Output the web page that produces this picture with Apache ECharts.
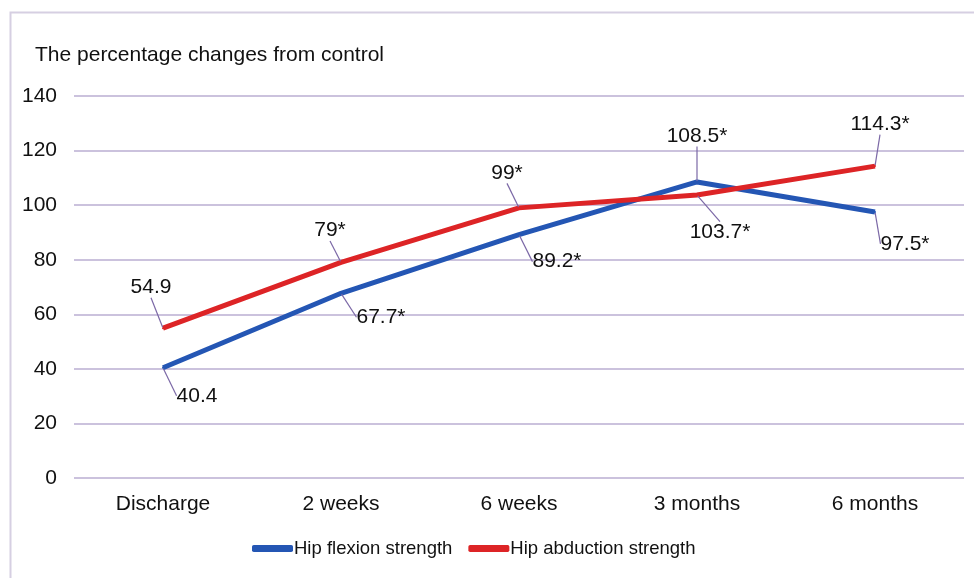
<!DOCTYPE html>
<html>
<head>
<meta charset="utf-8">
<script src="https://cdn.jsdelivr.net/npm/echarts@6/dist/echarts.min.js"></script>
<style>
html,body{margin:0;padding:0;background:#fff;}
#main{width:974px;height:578px;}
</style>
</head>
<body>
<div id="main"></div>
<script>
var categories = ['Discharge', '2 weeks', '6 weeks', '3 months', '6 months'];
var flexion = [40.4, 67.7, 89.2, 108.5, 97.5];
var abduction = [54.9, 79, 99, 103.7, 114.3];
var flexionLabels = ['40.4', '67.7*', '89.2*', '108.5*', '97.5*'];
var abductionLabels = ['54.9', '79*', '99*', '103.7*', '114.3*'];
var yTicks = [0, 20, 40, 60, 80, 100, 120, 140];

// label offsets (style only), label centre relative to point
var flexionOffsets = [[34, 28], [40, 24], [38, 27], [0, -46], [30, 32]];
var abductionOffsets = [[-12, -41], [-11, -32], [-12, -35], [23, 37], [5, -42]];

var FONT = '"Liberation Sans", Arial, sans-serif';
var chart = echarts.init(document.getElementById('main'), null, {renderer: 'canvas'});

function mkSeries(name, data, labels, offsets, color) {
  return {
    name: name,
    type: 'line',
    data: data,
    symbol: 'circle',
    symbolSize: 2,
    showSymbol: true,
    lineStyle: {color: color, width: 5},
    itemStyle: {color: color},
    label: {
      show: true,
      position: 'inside',
      fontFamily: FONT,
      fontSize: 21,
      color: '#111',
      formatter: function (p) { return labels[p.dataIndex]; }
    },
    labelLine: {
      show: true,
      lineStyle: {color: '#7b68a6', width: 1.2}
    },
    labelLayout: function (p) {
      var o = offsets[p.dataIndex];
      return {dx: o[0], dy: o[1], hideOverlap: false};
    },
    emphasis: {disabled: true},
    z: name === 'Hip abduction strength' ? 3 : 2
  };
}

chart.setOption({
  animation: false,
  backgroundColor: '#fff',
  graphic: [{
    type: 'rect',
    shape: {x: 10.5, y: 12.5, width: 1000, height: 700},
    style: {fill: 'none', stroke: '#d6cfe2', lineWidth: 2},
    silent: true
  }],
  title: {
    text: 'The percentage changes from control',
    left: 30, top: 40,
    textStyle: {fontFamily: FONT, fontSize: 21, fontWeight: 'normal', color: '#111'}
  },
  legend: {
    bottom: 15, left: 247,
    itemWidth: 41, itemHeight: 7, itemGap: 16,
    icon: 'roundRect',
    textStyle: {fontFamily: FONT, fontSize: 18.5, color: '#111', padding: [0, 0, 0, -4]},
    data: ['Hip flexion strength', 'Hip abduction strength']
  },
  grid: {left: 74, right: 10, top: 96, bottom: 100, containLabel: false},
  xAxis: {
    type: 'category',
    data: categories,
    boundaryGap: true,
    axisLine: {show: false},
    axisTick: {show: false},
    axisLabel: {fontFamily: FONT, fontSize: 21, color: '#111', margin: 16}
  },
  yAxis: {
    type: 'value',
    min: yTicks[0], max: yTicks[yTicks.length - 1], interval: 20,
    axisLine: {show: false},
    axisTick: {show: false},
    axisLabel: {fontFamily: FONT, fontSize: 21, color: '#111', margin: 17},
    splitLine: {lineStyle: {color: '#cbc2dd', width: 2}}
  },
  series: [
    mkSeries('Hip flexion strength', flexion, flexionLabels, flexionOffsets, '#2456b4'),
    mkSeries('Hip abduction strength', abduction, abductionLabels, abductionOffsets, '#dd2426')
  ]
});
</script>
</body>
</html>
